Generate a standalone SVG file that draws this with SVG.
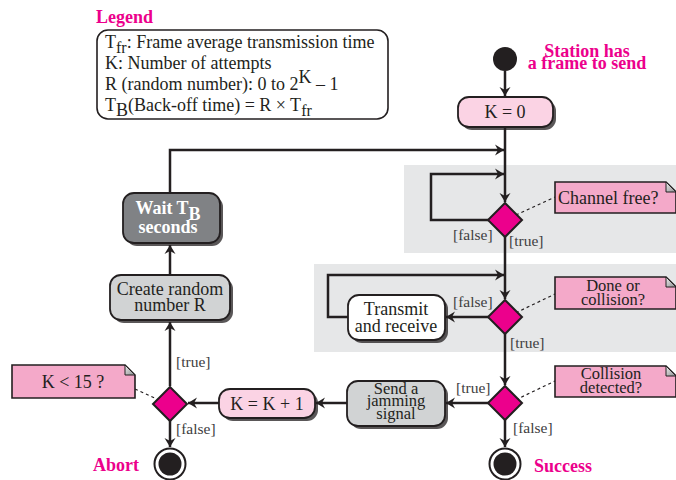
<svg xmlns="http://www.w3.org/2000/svg" width="676" height="480" viewBox="0 0 676 480">
<defs>
<marker id="ah" markerWidth="12" markerHeight="12" viewBox="-10 -6 12 12" refX="0" refY="0" orient="auto" markerUnits="userSpaceOnUse">
<path d="M-9,-5.5 L0,0 L-9,5.5 L-6,0 z" fill="#231f20"/>
</marker>
<linearGradient id="fold" x1="0" y1="0" x2="1" y2="1">
<stop offset="0" stop-color="#f0f0f0"/><stop offset="1" stop-color="#8a8c8e"/>
</linearGradient>
</defs>
<style>
text{font-family:'Liberation Serif','Times New Roman',serif;fill:#231f20}
.t{font-size:18px}
.s{font-size:16.5px}
.c{text-anchor:middle}
.lb{font-size:15.5px;fill:#404041}
.pk{fill:#ec008c;font-weight:bold;font-size:18px}
.wh{fill:#ffffff;font-weight:bold}
.ln{fill:none;stroke:#231f20;stroke-width:2.5}
.arr{marker-end:url(#ah)}
.dash{fill:none;stroke:#231f20;stroke-width:1.2;stroke-dasharray:3,3}
.box{stroke:#231f20;stroke-width:1.8}
.sh{fill:#231f20;opacity:0.75}
.dia{fill:#ec008c;stroke:#231f20;stroke-width:2}
.note{fill:#f4a9c9;stroke:#231f20;stroke-width:1.6}
.band{fill:#e6e7e8}
</style>
<rect class="band" x="404" y="165" width="272" height="88"/>
<rect class="band" x="314" y="264" width="362" height="88"/>

<g id="legend">
<text x="96" y="23" class="pk">Legend</text>
<rect x="97" y="30" width="291" height="89" rx="11" fill="#ffffff" stroke="#231f20" stroke-width="1.6"/>
<text class="t" x="105" y="48">T<tspan dy="5" font-size="16">fr</tspan><tspan dy="-5">: Frame average transmission time</tspan></text>
<text class="t" x="105" y="69">K: Number of attempts</text>
<text class="t" x="105" y="90">R (random number): 0 to 2<tspan dy="-7">K</tspan><tspan dy="7"> – 1</tspan></text>
<text class="t" x="105" y="111">T<tspan dy="5">B</tspan><tspan dy="-5">(Back-off time) = R × T</tspan><tspan dy="5" font-size="16">fr</tspan></text>
</g>

<g id="connectors">
<path class="ln arr" d="M505,71 V96"/>
<path class="ln arr" d="M505,127 V202"/>
<path class="ln arr" d="M170,193 V150 H504"/>
<path class="ln arr" d="M489,220 H431 V174 H504"/>
<path class="ln arr" d="M505,237 V299"/>
<path class="ln arr" d="M489,317 H446"/>
<path class="ln arr" d="M348,317 H328 V275 H504"/>
<path class="ln arr" d="M505,334 V385"/>
<path class="ln arr" d="M489,403 H446"/>
<path class="ln arr" d="M347,403 H316"/>
<path class="ln arr" d="M219,403 H188"/>
<path class="ln arr" d="M170,420 V447"/>
<path class="ln arr" d="M170,386 V322"/>
<path class="ln arr" d="M170,275 V245"/>
<path class="ln arr" d="M505,420 V447"/>
<path class="dash" d="M505,220 L555,197"/>
<path class="dash" d="M505,318 L555,294"/>
<path class="dash" d="M505,405 L555,381"/>
<path class="dash" d="M135,389 L172,406"/>
</g>

<g id="start">
<circle cx="505" cy="59" r="12" fill="#231f20"/>
<text x="587" y="57" class="pk c">Station has</text>
<text x="587" y="69" class="pk c">a frame to send</text>
</g>

<g id="k0">
<rect class="sh" x="461" y="100" width="95" height="30" rx="11"/>
<rect class="box" x="458" y="97" width="95" height="30" rx="11" fill="#fbd3e4"/>
<text class="t c" x="505" y="118">K = 0</text>
</g>

<g id="d1">
<path class="dia" d="M505,203 L522,220 L505,237 L488,220 z"/>
<text class="lb" x="453" y="240">[false]</text>
<text class="lb" x="509" y="246">[true]</text>
</g>
<g id="n1">
<path class="note" d="M555,182 H666 L676,192 V213 H555 z"/>
<path d="M666,182 V192 H676 z" fill="url(#fold)" stroke="#231f20" stroke-width="1"/>
<text class="t" x="558" y="204">Channel free?</text>
</g>

<g id="d2">
<path class="dia" d="M505,300 L522,317 L505,334 L488,317 z"/>
<text class="lb" x="453" y="307">[false]</text>
<text class="lb" x="510" y="348">[true]</text>
</g>
<g id="n2">
<path class="note" d="M555,277 H666 L676,287 V309 H555 z"/>
<path d="M666,277 V287 H676 z" fill="url(#fold)" stroke="#231f20" stroke-width="1"/>
<text class="s c" x="613" y="291">Done or</text>
<text class="s c" x="613" y="305">collision?</text>
</g>

<g id="transmit">
<rect class="sh" x="351" y="298" width="97" height="45" rx="11"/>
<rect class="box" x="348" y="295" width="97" height="45" rx="11" fill="#ffffff"/>
<text class="t c" x="396" y="315">Transmit</text>
<text class="t c" x="396" y="332">and receive</text>
</g>

<g id="d3">
<path class="dia" d="M505,386 L522,403 L505,420 L488,403 z"/>
<text class="lb" x="456" y="393">[true]</text>
<text class="lb" x="513" y="433">[false]</text>
</g>
<g id="n3">
<path class="note" d="M555,366 H666 L676,376 V397 H555 z"/>
<path d="M666,366 V376 H676 z" fill="url(#fold)" stroke="#231f20" stroke-width="1"/>
<text class="s c" x="611" y="379">Collision</text>
<text class="s c" x="611" y="393">detected?</text>
</g>

<g id="jam">
<rect class="sh" x="350" y="384" width="98" height="45" rx="11"/>
<rect class="box" x="347" y="381" width="98" height="45" rx="11" fill="#d1d3d4"/>
<text class="s c" x="396" y="394">Send a</text>
<text class="s c" x="396" y="406">jamming</text>
<text class="s c" x="396" y="419">signal</text>
</g>

<g id="kinc">
<rect class="sh" x="222" y="392" width="96" height="29" rx="11"/>
<rect class="box" x="219" y="389" width="96" height="29" rx="11" fill="#fbd3e4"/>
<text class="t c" x="267" y="410">K = K + 1</text>
</g>

<g id="d4">
<path class="dia" d="M170,387 L187,404 L170,421 L153,404 z"/>
<text class="lb" x="176" y="367">[true]</text>
<text class="lb" x="176" y="434">[false]</text>
</g>
<g id="n4">
<path class="note" d="M12,365 H125 L135,375 V398 H12 z"/>
<path d="M125,365 V375 H135 z" fill="url(#fold)" stroke="#231f20" stroke-width="1"/>
<text class="t c" x="73" y="388">K &lt; 15 ?</text>
</g>

<g id="create">
<rect class="sh" x="113" y="278" width="120" height="45" rx="11"/>
<rect class="box" x="110" y="275" width="120" height="45" rx="11" fill="#d1d3d4"/>
<text class="t c" x="170" y="295">Create random</text>
<text class="t c" x="170" y="311">number R</text>
</g>

<g id="wait">
<rect class="sh" x="126" y="196" width="97" height="50" rx="11"/>
<rect class="box" x="123" y="193" width="97" height="50" rx="11" fill="#808285"/>
<text class="t c wh" x="168" y="214">Wait T<tspan dy="6">B</tspan></text>
<text class="t c wh" x="168" y="233">seconds</text>
</g>

<g id="abort">
<circle cx="170" cy="464" r="15.5" fill="#ffffff" stroke="#231f20" stroke-width="2"/>
<circle cx="170" cy="464" r="11.5" fill="#231f20"/>
<text x="93" y="471" class="pk">Abort</text>
</g>

<g id="success">
<circle cx="505" cy="464" r="15.5" fill="#ffffff" stroke="#231f20" stroke-width="2"/>
<circle cx="505" cy="464" r="11.5" fill="#231f20"/>
<text x="534" y="472" class="pk">Success</text>
</g>
</svg>
